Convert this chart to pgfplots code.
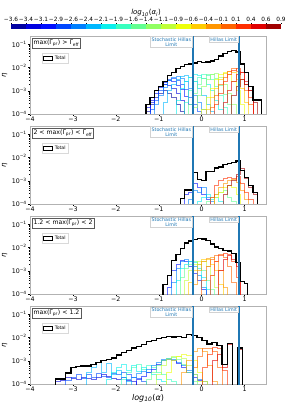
\documentclass[border=0pt]{standalone}
\usepackage{pgfplots}
\pgfplotsset{compat=1.18}
\usepackage{fontspec}
\setmainfont{DejaVu Sans}
\definecolor{j0}{rgb}{0,0,0.63}
\definecolor{j1}{rgb}{0,0,0.88}
\definecolor{j2}{rgb}{0,0.06,1}
\definecolor{j3}{rgb}{0,0.28,1}
\definecolor{j4}{rgb}{0,0.5,1}
\definecolor{j5}{rgb}{0,0.72,1}
\definecolor{j6}{rgb}{0.04,0.94,0.93}
\definecolor{j7}{rgb}{0.22,1,0.75}
\definecolor{j8}{rgb}{0.39,1,0.57}
\definecolor{j9}{rgb}{0.57,1,0.39}
\definecolor{j10}{rgb}{0.75,1,0.22}
\definecolor{j11}{rgb}{0.93,1,0.04}
\definecolor{j12}{rgb}{1,0.8,0}
\definecolor{j13}{rgb}{1,0.59,0}
\definecolor{j14}{rgb}{1,0.39,0}
\definecolor{j15}{rgb}{1,0.18,0}
\definecolor{j16}{rgb}{0.88,0,0}
\definecolor{j17}{rgb}{0.63,0,0}
\definecolor{tabblue}{rgb}{0.122,0.467,0.706}
\pgfplotsset{
  mypanel/.style={
    scale only axis, width=236pt, height=77.5pt, anchor=south west,
    xmin=-4, xmax=1.5, ymin=1e-4, ymax=0.22,
    xtick={-4,-3,-2,-1,0,1}, xticklabels={−4,−3,−2,−1,0,1},
    ytick={1e-4,1e-3,1e-2,1e-1},
    yticklabels={10\textsuperscript{−4},10\textsuperscript{−3},10\textsuperscript{−2},10\textsuperscript{−1}},
    axis line style={gray!60, line width=0.6pt},
    tick align=outside, major tick length=2pt, minor tick length=1.2pt,
    every tick/.style={black, line width=0.4pt},
    xtick pos=left, ytick pos=left,
    tick label style={font=\fontsize{6.3}{7}\selectfont, inner sep=1pt},
    ylabel={\itshape η}, ylabel style={font=\fontsize{7}{8}\selectfont},
    legend cell align=left,
    legend style={at={(0.05,0.79)}, anchor=north west, draw=gray!30,
      font=\fontsize{4.6}{5}\selectfont, inner sep=0.8pt},
  },
  hist/.style={const plot, line width=0.7pt, draw opacity=0.6, forget plot},
  tot/.style={const plot, black, line width=1.3pt,
    legend image code/.code={\draw[black, line width=1pt] (0pt,-2pt) rectangle (9pt,2pt);}},
  lim/.style={color=tabblue, line width=1.5pt, forget plot},
}
\tikzset{
  lbl/.style={fill=white, draw=gray!35, text=tabblue, font=\fontsize{4.8}{5.3}\selectfont,
    align=center, inner sep=1pt, anchor=north east, xshift=-0.8pt},
  ttl/.style={anchor=north west, draw=gray!70!black, fill=white,
    font=\fontsize{6.2}{7}\selectfont, inner sep=1.4pt, line width=0.5pt},
}
\begin{document}
\begin{tikzpicture}
\path[use as bounding box] (0,0) rectangle (287pt,407pt);

% ---------- colorbar ----------
\begin{axis}[at={(11pt,378pt)}, anchor=south west, scale only axis, width=270pt, height=4.5pt,
  xmin=-3.625, xmax=0.875, ymin=0, ymax=1, ytick=\empty, clip=false,
  axis line style={draw=none},
  xtick={-3.625,-3.375,-3.125,-2.875,-2.625,-2.375,-2.125,-1.875,-1.625,-1.375,-1.125,-0.875,-0.625,-0.375,-0.125,0.125,0.375,0.625,0.875},
  xticklabels={−3.6,−3.4,−3.1,−2.9,−2.6,−2.4,−2.1,−1.9,−1.6,−1.4,−1.1,−0.9,−0.6,−0.4,−0.1,0.1,0.4,0.6,0.9},
  xticklabel pos=upper, xtick pos=upper, tick align=outside, major tick length=1.5pt,
  every tick/.style={black, line width=0.3pt},
  tick label style={font=\fontsize{5.8}{6.5}\selectfont, inner sep=0.8pt}]
\addplot[fill=j0, draw=none] coordinates {(-3.625,1) (-3.375,1)} \closedcycle;
\addplot[fill=j1, draw=none] coordinates {(-3.375,1) (-3.125,1)} \closedcycle;
\addplot[fill=j2, draw=none] coordinates {(-3.125,1) (-2.875,1)} \closedcycle;
\addplot[fill=j3, draw=none] coordinates {(-2.875,1) (-2.625,1)} \closedcycle;
\addplot[fill=j4, draw=none] coordinates {(-2.625,1) (-2.375,1)} \closedcycle;
\addplot[fill=j5, draw=none] coordinates {(-2.375,1) (-2.125,1)} \closedcycle;
\addplot[fill=j6, draw=none] coordinates {(-2.125,1) (-1.875,1)} \closedcycle;
\addplot[fill=j7, draw=none] coordinates {(-1.875,1) (-1.625,1)} \closedcycle;
\addplot[fill=j8, draw=none] coordinates {(-1.625,1) (-1.375,1)} \closedcycle;
\addplot[fill=j9, draw=none] coordinates {(-1.375,1) (-1.125,1)} \closedcycle;
\addplot[fill=j10, draw=none] coordinates {(-1.125,1) (-0.875,1)} \closedcycle;
\addplot[fill=j11, draw=none] coordinates {(-0.875,1) (-0.625,1)} \closedcycle;
\addplot[fill=j12, draw=none] coordinates {(-0.625,1) (-0.375,1)} \closedcycle;
\addplot[fill=j13, draw=none] coordinates {(-0.375,1) (-0.125,1)} \closedcycle;
\addplot[fill=j14, draw=none] coordinates {(-0.125,1) (0.125,1)} \closedcycle;
\addplot[fill=j15, draw=none] coordinates {(0.125,1) (0.375,1)} \closedcycle;
\addplot[fill=j16, draw=none] coordinates {(0.375,1) (0.625,1)} \closedcycle;
\addplot[fill=j17, draw=none] coordinates {(0.625,1) (0.875,1)} \closedcycle;
\node[anchor=south, yshift=8pt, inner sep=0pt, font=\fontsize{7}{8}\selectfont] at (rel axis cs:0.5,1)
  {\textit{log}\textsubscript{\textit{10}}(\textit{α}\textsubscript{\textit{i}})};
\end{axis}

% ---------- panel 1 ----------
\begin{axis}[mypanel, ymode=log, at={(30pt,293pt)}]
\addplot[hist, j0] table[row sep=\\, y expr=10^(\thisrowno{1})] {x y\\ -1.3 -6\\ -1.3 -3.9\\ -1.2 -3.6\\ -1.1 -3.3\\ -1.0 -3.1\\ -0.9 -3.0\\ -0.8 -3.1\\ -0.7 -3.3\\ -0.6 -3.6\\ -0.5 -3.9\\ -0.4 -6\\};
\addplot[hist, j1] table[row sep=\\, y expr=10^(\thisrowno{1})] {x y\\ -1.3 -6\\ -1.3 -3.7\\ -1.2 -3.4\\ -1.1 -3.0\\ -1.0 -2.8\\ -0.9 -2.7\\ -0.8 -2.75\\ -0.7 -2.9\\ -0.6 -3.1\\ -0.5 -3.4\\ -0.4 -6\\};
\addplot[hist, j2] table[row sep=\\, y expr=10^(\thisrowno{1})] {x y\\ -1.2 -6\\ -1.2 -3.5\\ -1.1 -3.1\\ -1.0 -2.85\\ -0.9 -2.65\\ -0.8 -2.55\\ -0.7 -2.6\\ -0.6 -2.75\\ -0.5 -2.95\\ -0.4 -3.25\\ -0.3 -3.6\\ -0.2 -6\\};
\addplot[hist, j3] table[row sep=\\, y expr=10^(\thisrowno{1})] {x y\\ -1.2 -6\\ -1.2 -3.8\\ -1.1 -3.4\\ -1.0 -3.0\\ -0.9 -2.7\\ -0.8 -2.5\\ -0.7 -2.45\\ -0.6 -2.55\\ -0.5 -2.7\\ -0.4 -2.95\\ -0.3 -3.3\\ -0.2 -3.6\\ -0.1 -3.9\\ 0.0 -6\\};
\addplot[hist, j4] table[row sep=\\, y expr=10^(\thisrowno{1})] {x y\\ -1.1 -6\\ -1.1 -3.6\\ -1.0 -3.2\\ -0.9 -2.85\\ -0.8 -2.55\\ -0.7 -2.42\\ -0.6 -2.38\\ -0.5 -2.45\\ -0.4 -2.6\\ -0.3 -2.9\\ -0.2 -3.2\\ -0.1 -3.5\\ 0.0 -3.8\\ 0.1 -6\\};
\addplot[hist, j5] table[row sep=\\, y expr=10^(\thisrowno{1})] {x y\\ -0.9 -6\\ -0.9 -3.5\\ -0.8 -3.0\\ -0.7 -2.7\\ -0.6 -2.5\\ -0.5 -2.38\\ -0.4 -2.32\\ -0.3 -2.4\\ -0.2 -2.6\\ -0.1 -2.9\\ 0.0 -3.2\\ 0.1 -3.6\\ 0.2 -3.9\\ 0.3 -6\\};
\addplot[hist, j6] table[row sep=\\, y expr=10^(\thisrowno{1})] {x y\\ -0.6 -6\\ -0.6 -3.4\\ -0.5 -2.9\\ -0.4 -2.6\\ -0.3 -2.4\\ -0.2 -2.3\\ -0.1 -2.32\\ 0.0 -2.45\\ 0.1 -2.7\\ 0.2 -3.0\\ 0.3 -3.4\\ 0.4 -3.8\\ 0.5 -6\\};
\addplot[hist, j7] table[row sep=\\, y expr=10^(\thisrowno{1})] {x y\\ -0.4 -6\\ -0.4 -3.5\\ -0.3 -3.0\\ -0.2 -2.6\\ -0.1 -2.4\\ 0.0 -2.3\\ 0.1 -2.35\\ 0.2 -2.5\\ 0.3 -2.8\\ 0.4 -3.2\\ 0.5 -3.7\\ 0.6 -6\\};
\addplot[hist, j8] table[row sep=\\, y expr=10^(\thisrowno{1})] {x y\\ -0.3 -6\\ -0.3 -3.6\\ -0.2 -3.1\\ -0.1 -2.7\\ 0.0 -2.45\\ 0.1 -2.3\\ 0.2 -2.3\\ 0.3 -2.45\\ 0.4 -2.75\\ 0.5 -3.15\\ 0.6 -3.6\\ 0.7 -6\\};
\addplot[hist, j9] table[row sep=\\, y expr=10^(\thisrowno{1})] {x y\\ -0.2 -6\\ -0.2 -3.7\\ -0.1 -3.2\\ 0.0 -2.8\\ 0.1 -2.5\\ 0.2 -2.3\\ 0.3 -2.25\\ 0.4 -2.4\\ 0.5 -2.7\\ 0.6 -3.1\\ 0.7 -3.6\\ 0.8 -6\\};
\addplot[hist, j11] table[row sep=\\, y expr=10^(\thisrowno{1})] {x y\\ 0.0 -6\\ 0.0 -3.8\\ 0.1 -3.3\\ 0.2 -2.9\\ 0.3 -2.5\\ 0.4 -2.3\\ 0.5 -2.2\\ 0.6 -2.3\\ 0.7 -2.6\\ 0.8 -3.0\\ 0.9 -3.6\\ 1.0 -6\\};
\addplot[hist, j12] table[row sep=\\, y expr=10^(\thisrowno{1})] {x y\\ 0.1 -6\\ 0.1 -3.8\\ 0.2 -3.3\\ 0.3 -2.9\\ 0.4 -2.5\\ 0.5 -2.25\\ 0.6 -2.15\\ 0.7 -2.2\\ 0.8 -2.5\\ 0.9 -2.9\\ 1.0 -3.5\\ 1.1 -6\\};
\addplot[hist, j14] table[row sep=\\, y expr=10^(\thisrowno{1})] {x y\\ 0.2 -6\\ 0.2 -3.7\\ 0.3 -3.2\\ 0.4 -2.7\\ 0.5 -2.4\\ 0.6 -2.15\\ 0.7 -2.05\\ 0.8 -2.15\\ 0.9 -2.5\\ 1.0 -3.0\\ 1.1 -3.6\\ 1.2 -6\\};
\addplot[hist, j15] table[row sep=\\, y expr=10^(\thisrowno{1})] {x y\\ 0.3 -6\\ 0.3 -3.6\\ 0.4 -3.1\\ 0.5 -2.6\\ 0.6 -2.3\\ 0.7 -2.1\\ 0.8 -2.05\\ 0.9 -2.2\\ 1.0 -2.7\\ 1.1 -3.3\\ 1.2 -6\\};
\addplot[hist, j16] table[row sep=\\, y expr=10^(\thisrowno{1})] {x y\\ 0.5 -6\\ 0.5 -3.5\\ 0.6 -3.0\\ 0.7 -2.6\\ 0.8 -2.3\\ 0.9 -2.2\\ 1.0 -2.6\\ 1.1 -3.0\\ 1.2 -6\\};
\addplot[hist, j17] table[row sep=\\, y expr=10^(\thisrowno{1})] {x y\\ 0.7 -6\\ 0.7 -3.2\\ 0.8 -2.8\\ 0.9 -2.5\\ 1.0 -2.7\\ 1.1 -3.0\\ 1.2 -3.5\\ 1.3 -6\\};
\addplot[tot] table[row sep=\\, y expr=10^(\thisrowno{1})] {x y\\ -1.3 -6\\ -1.3 -3.6\\ -1.2 -3.3\\ -1.1 -3.0\\ -1.0 -2.8\\ -0.9 -2.6\\ -0.8 -2.35\\ -0.7 -2.2\\ -0.6 -2.05\\ -0.5 -1.95\\ -0.4 -1.88\\ -0.3 -1.85\\ -0.2 -1.8\\ -0.1 -1.75\\ 0.0 -1.78\\ 0.1 -1.76\\ 0.2 -1.72\\ 0.3 -1.65\\ 0.4 -1.5\\ 0.5 -1.4\\ 0.6 -1.3\\ 0.7 -1.27\\ 0.8 -1.32\\ 0.9 -1.85\\ 1.0 -2.2\\ 1.1 -2.8\\ 1.2 -3.4\\ 1.3 -3.4\\ 1.4 -6\\};
\addlegendentry{Total}
\addplot[lim] coordinates {(-0.2,1e-5) (-0.2,1)};
\addplot[lim] coordinates {(0.87,1e-5) (0.87,1)};
\node[lbl] at (axis cs:-0.2,0.22) {Stochastic Hillas\\Limit};
\node[lbl] at (axis cs:0.87,0.22) {Hillas Limit};
\node[ttl] at (rel axis cs:0.008,0.975) {max(Γ\textsubscript{pr}) > Γ\textsubscript{eff}};
\end{axis}

% ---------- panel 2 ----------
\begin{axis}[mypanel, ymode=log, at={(30pt,203pt)}]
\addplot[hist, j2] table[row sep=\\, y expr=10^(\thisrowno{1})] {x y\\ -0.4 -6\\ -0.4 -3.6\\ -0.3 -3.5\\ -0.2 -3.1\\ -0.1 -3.3\\ 0.0 -3.6\\ 0.1 -3.8\\ 0.2 -6\\};
\addplot[hist, j4] table[row sep=\\, y expr=10^(\thisrowno{1})] {x y\\ -0.3 -6\\ -0.3 -3.8\\ -0.2 -3.4\\ -0.1 -3.5\\ 0.0 -3.3\\ 0.1 -3.7\\ 0.2 -3.9\\ 0.3 -6\\};
\addplot[hist, j6] table[row sep=\\, y expr=10^(\thisrowno{1})] {x y\\ -0.1 -6\\ -0.1 -3.9\\ 0.0 -3.7\\ 0.1 -3.6\\ 0.2 -3.8\\ 0.3 -3.7\\ 0.4 -3.9\\ 0.5 -6\\};
\addplot[hist, j8] table[row sep=\\, y expr=10^(\thisrowno{1})] {x y\\ 0.1 -6\\ 0.1 -3.9\\ 0.2 -3.7\\ 0.3 -3.6\\ 0.4 -3.5\\ 0.5 -3.4\\ 0.6 -3.7\\ 0.7 -3.9\\ 0.8 -6\\};
\addplot[hist, j11] table[row sep=\\, y expr=10^(\thisrowno{1})] {x y\\ 0.3 -6\\ 0.3 -3.7\\ 0.4 -3.5\\ 0.5 -3.3\\ 0.6 -3.2\\ 0.7 -3.3\\ 0.8 -3.6\\ 0.9 -6\\};
\addplot[hist, j13] table[row sep=\\, y expr=10^(\thisrowno{1})] {x y\\ 0.3 -6\\ 0.3 -3.6\\ 0.4 -3.3\\ 0.5 -3.1\\ 0.6 -3.0\\ 0.7 -2.95\\ 0.8 -3.05\\ 0.9 -3.4\\ 1.0 -3.8\\ 1.1 -6\\};
\addplot[hist, j15] table[row sep=\\, y expr=10^(\thisrowno{1})] {x y\\ 0.2 -6\\ 0.2 -3.7\\ 0.3 -3.2\\ 0.4 -3.0\\ 0.5 -2.9\\ 0.6 -2.85\\ 0.7 -2.9\\ 0.8 -2.8\\ 0.9 -3.1\\ 1.0 -3.5\\ 1.1 -3.8\\ 1.2 -6\\};
\addplot[hist, j17] table[row sep=\\, y expr=10^(\thisrowno{1})] {x y\\ 0.5 -6\\ 0.5 -3.6\\ 0.6 -3.2\\ 0.7 -3.0\\ 0.8 -2.7\\ 0.9 -2.45\\ 1.0 -2.9\\ 1.1 -3.3\\ 1.2 -3.6\\ 1.3 -6\\};
\addplot[tot] table[row sep=\\, y expr=10^(\thisrowno{1})] {x y\\ -0.5 -6\\ -0.5 -3.75\\ -0.4 -3.4\\ -0.3 -3.4\\ -0.2 -2.65\\ -0.1 -2.95\\ 0.0 -3.0\\ 0.1 -2.6\\ 0.2 -2.6\\ 0.3 -2.45\\ 0.4 -2.4\\ 0.5 -2.3\\ 0.6 -2.25\\ 0.7 -2.2\\ 0.8 -2.15\\ 0.9 -2.55\\ 1.0 -2.85\\ 1.1 -3.2\\ 1.2 -3.5\\ 1.3 -6\\};
\addlegendentry{Total}
\addplot[lim] coordinates {(-0.2,1e-5) (-0.2,1)};
\addplot[lim] coordinates {(0.87,1e-5) (0.87,1)};
\node[lbl] at (axis cs:-0.2,0.22) {Stochastic Hillas\\Limit};
\node[lbl] at (axis cs:0.87,0.22) {Hillas Limit};
\node[ttl] at (rel axis cs:0.008,0.975) {2 < max(Γ\textsubscript{pr}) < Γ\textsubscript{eff}};
\end{axis}

% ---------- panel 3 ----------
\begin{axis}[mypanel, ymode=log, at={(30pt,113pt)}]
\addplot[hist, j2] table[row sep=\\, y expr=10^(\thisrowno{1})] {x y\\ -0.8 -6\\ -0.8 -3.7\\ -0.7 -3.0\\ -0.6 -2.7\\ -0.5 -2.55\\ -0.4 -2.6\\ -0.3 -2.8\\ -0.2 -3.1\\ -0.1 -3.4\\ 0.0 -3.8\\ 0.1 -6\\};
\addplot[hist, j4] table[row sep=\\, y expr=10^(\thisrowno{1})] {x y\\ -0.7 -6\\ -0.7 -3.5\\ -0.6 -2.9\\ -0.5 -2.6\\ -0.4 -2.5\\ -0.3 -2.6\\ -0.2 -2.8\\ -0.1 -3.2\\ 0.0 -3.7\\ 0.1 -6\\};
\addplot[hist, j6] table[row sep=\\, y expr=10^(\thisrowno{1})] {x y\\ -0.6 -6\\ -0.6 -3.4\\ -0.5 -2.9\\ -0.4 -2.7\\ -0.3 -2.6\\ -0.2 -2.65\\ -0.1 -2.9\\ 0.0 -3.3\\ 0.1 -3.8\\ 0.2 -6\\};
\addplot[hist, j8] table[row sep=\\, y expr=10^(\thisrowno{1})] {x y\\ -0.5 -6\\ -0.5 -3.3\\ -0.4 -2.9\\ -0.3 -2.7\\ -0.2 -2.6\\ -0.1 -2.7\\ 0.0 -3.0\\ 0.1 -3.4\\ 0.2 -3.8\\ 0.3 -6\\};
\addplot[hist, j10] table[row sep=\\, y expr=10^(\thisrowno{1})] {x y\\ -0.4 -6\\ -0.4 -3.4\\ -0.3 -3.0\\ -0.2 -2.7\\ -0.1 -2.6\\ 0.0 -2.6\\ 0.1 -2.8\\ 0.2 -3.2\\ 0.3 -3.7\\ 0.4 -6\\};
\addplot[hist, j12] table[row sep=\\, y expr=10^(\thisrowno{1})] {x y\\ -0.3 -6\\ -0.3 -3.5\\ -0.2 -3.0\\ -0.1 -2.7\\ 0.0 -2.5\\ 0.1 -2.5\\ 0.2 -2.7\\ 0.3 -3.0\\ 0.4 -3.6\\ 0.5 -6\\};
\addplot[hist, j13] table[row sep=\\, y expr=10^(\thisrowno{1})] {x y\\ -0.2 -6\\ -0.2 -3.6\\ -0.1 -3.0\\ 0.0 -2.6\\ 0.1 -2.45\\ 0.2 -2.4\\ 0.3 -2.6\\ 0.4 -3.0\\ 0.5 -3.7\\ 0.6 -6\\};
\addplot[hist, j14] table[row sep=\\, y expr=10^(\thisrowno{1})] {x y\\ 0.0 -6\\ 0.0 -3.4\\ 0.1 -2.8\\ 0.2 -2.5\\ 0.3 -2.35\\ 0.4 -2.3\\ 0.5 -2.4\\ 0.6 -2.8\\ 0.7 -3.5\\ 0.8 -6\\};
\addplot[hist, j15] table[row sep=\\, y expr=10^(\thisrowno{1})] {x y\\ 0.2 -6\\ 0.2 -3.2\\ 0.3 -2.6\\ 0.4 -2.35\\ 0.5 -2.25\\ 0.6 -2.3\\ 0.7 -2.6\\ 0.8 -3.3\\ 0.9 -6\\};
\addplot[hist, j16] table[row sep=\\, y expr=10^(\thisrowno{1})] {x y\\ 0.4 -6\\ 0.4 -3.0\\ 0.5 -2.5\\ 0.6 -2.35\\ 0.7 -2.5\\ 0.8 -2.8\\ 0.9 -6\\};
\addplot[tot] table[row sep=\\, y expr=10^(\thisrowno{1})] {x y\\ -0.9 -6\\ -0.9 -3.6\\ -0.8 -3.2\\ -0.7 -2.55\\ -0.6 -2.3\\ -0.5 -2.05\\ -0.4 -1.8\\ -0.3 -1.72\\ -0.2 -1.65\\ -0.1 -1.6\\ 0.0 -1.63\\ 0.1 -1.7\\ 0.2 -1.85\\ 0.3 -1.97\\ 0.4 -2.05\\ 0.5 -2.12\\ 0.6 -2.15\\ 0.7 -2.25\\ 0.8 -2.65\\ 0.9 -3.45\\ 1.0 -3.55\\ 1.07 -6\\};
\addlegendentry{Total}
\addplot[lim] coordinates {(-0.2,1e-5) (-0.2,1)};
\addplot[lim] coordinates {(0.87,1e-5) (0.87,1)};
\node[lbl] at (axis cs:-0.2,0.22) {Stochastic Hillas\\Limit};
\node[lbl] at (axis cs:0.87,0.22) {Hillas Limit};
\node[ttl] at (rel axis cs:0.008,0.975) {1.2 < max(Γ\textsubscript{pr}) < 2};
\end{axis}

% ---------- panel 4 ----------
\begin{axis}[mypanel, ymode=log, at={(30pt,23pt)},
  xlabel={\textit{log}\textsubscript{\textit{10}}(\textit{α})},
  xlabel style={font=\fontsize{8}{9}\selectfont, inner sep=1pt}]
\addplot[hist, j1] table[row sep=\\, y expr=10^(\thisrowno{1})] {x y\\ -3.4 -6\\ -3.4 -3.9\\ -3.2825 -3.85\\ -3.165 -3.7\\ -3.0475 -3.75\\ -2.93 -3.8\\ -2.8125 -3.7\\ -2.695 -3.75\\ -2.5775 -3.8\\ -2.46 -3.7\\ -2.3425 -3.6\\ -2.225 -3.65\\ -2.1075 -3.75\\ -1.99 -3.8\\ -1.8725 -3.7\\ -1.755 -3.85\\ -1.6375 -3.9\\ -1.52 -6\\};
\addplot[hist, j3] table[row sep=\\, y expr=10^(\thisrowno{1})] {x y\\ -3.165 -6\\ -3.165 -3.85\\ -3.0475 -3.7\\ -2.93 -3.6\\ -2.8125 -3.75\\ -2.695 -3.6\\ -2.5775 -3.7\\ -2.46 -3.55\\ -2.3425 -3.65\\ -2.225 -3.7\\ -2.1075 -3.55\\ -1.99 -3.6\\ -1.8725 -3.5\\ -1.755 -3.6\\ -1.6375 -3.7\\ -1.52 -3.75\\ -1.4025 -3.9\\ -1.285 -6\\};
\addplot[hist, j5] table[row sep=\\, y expr=10^(\thisrowno{1})] {x y\\ -2.695 -6\\ -2.695 -3.5\\ -2.5775 -3.3\\ -2.46 -3.05\\ -2.3425 -3.5\\ -2.225 -3.1\\ -2.1075 -3.6\\ -1.99 -3.4\\ -1.8725 -3.7\\ -1.755 -3.9\\ -1.6375 -6\\};
\addplot[hist, j6] table[row sep=\\, y expr=10^(\thisrowno{1})] {x y\\ -2.225 -6\\ -2.225 -3.8\\ -2.1075 -3.5\\ -1.99 -3.3\\ -1.8725 -3.15\\ -1.755 -3.4\\ -1.6375 -3.2\\ -1.52 -3.45\\ -1.4025 -3.3\\ -1.285 -3.5\\ -1.1675 -3.6\\ -1.05 -3.8\\ -0.9325 -3.9\\ -0.815 -6\\};
\addplot[hist, j7] table[row sep=\\, y expr=10^(\thisrowno{1})] {x y\\ -1.8725 -6\\ -1.8725 -3.8\\ -1.755 -3.5\\ -1.6375 -3.3\\ -1.52 -3.15\\ -1.4025 -3.35\\ -1.285 -3.2\\ -1.1675 -3.3\\ -1.05 -3.5\\ -0.9325 -3.6\\ -0.815 -3.8\\ -0.6975 -3.9\\ -0.58 -6\\};
\addplot[hist, j4] table[row sep=\\, y expr=10^(\thisrowno{1})] {x y\\ -1.755 -6\\ -1.755 -3.8\\ -1.6375 -3.7\\ -1.52 -3.55\\ -1.4025 -3.45\\ -1.285 -3.35\\ -1.1675 -3.2\\ -1.05 -3.05\\ -0.9325 -2.95\\ -0.815 -2.9\\ -0.6975 -2.95\\ -0.58 -3.05\\ -0.4625 -3.2\\ -0.345 -3.4\\ -0.2275 -3.6\\ -0.11 -3.8\\ 0.0075 -3.9\\ 0.125 -6\\};
\addplot[hist, j2] table[row sep=\\, y expr=10^(\thisrowno{1})] {x y\\ -1.52 -6\\ -1.52 -3.8\\ -1.4025 -3.65\\ -1.285 -3.5\\ -1.1675 -3.35\\ -1.05 -3.15\\ -0.9325 -3.0\\ -0.815 -2.92\\ -0.6975 -3.0\\ -0.58 -3.1\\ -0.4625 -3.3\\ -0.345 -3.5\\ -0.2275 -3.7\\ -0.11 -3.85\\ 0.0075 -6\\};
\addplot[hist, j8] table[row sep=\\, y expr=10^(\thisrowno{1})] {x y\\ -1.285 -6\\ -1.285 -3.8\\ -1.1675 -3.5\\ -1.05 -3.2\\ -0.9325 -3.0\\ -0.815 -2.9\\ -0.6975 -2.85\\ -0.58 -2.95\\ -0.4625 -3.15\\ -0.345 -3.5\\ -0.2275 -3.9\\ -0.11 -6\\};
\addplot[hist, j10] table[row sep=\\, y expr=10^(\thisrowno{1})] {x y\\ -1.05 -6\\ -1.05 -3.6\\ -0.9325 -3.2\\ -0.815 -2.95\\ -0.6975 -2.8\\ -0.58 -2.8\\ -0.4625 -2.9\\ -0.345 -3.2\\ -0.2275 -3.6\\ -0.11 -3.9\\ 0.0075 -6\\};
\addplot[hist, j11] table[row sep=\\, y expr=10^(\thisrowno{1})] {x y\\ -0.815 -6\\ -0.815 -3.5\\ -0.6975 -3.0\\ -0.58 -2.8\\ -0.4625 -2.7\\ -0.345 -2.75\\ -0.2275 -3.0\\ -0.11 -3.5\\ 0.0075 -3.9\\ 0.125 -6\\};
\addplot[hist, j13] table[row sep=\\, y expr=10^(\thisrowno{1})] {x y\\ -0.4625 -6\\ -0.4625 -3.5\\ -0.345 -3.0\\ -0.2275 -2.6\\ -0.11 -2.45\\ 0.0075 -2.6\\ 0.125 -3.2\\ 0.2425 -3.9\\ 0.36 -6\\};
\addplot[hist, j14] table[row sep=\\, y expr=10^(\thisrowno{1})] {x y\\ -0.2275 -6\\ -0.2275 -3.3\\ -0.11 -2.8\\ 0.0075 -2.45\\ 0.125 -2.45\\ 0.2425 -2.6\\ 0.36 -3.3\\ 0.4775 -6\\};
\addplot[hist, j15] table[row sep=\\, y expr=10^(\thisrowno{1})] {x y\\ 0.0075 -6\\ 0.0075 -3.3\\ 0.125 -2.7\\ 0.2425 -2.4\\ 0.36 -2.45\\ 0.4775 -3.4\\ 0.595 -6\\};
\addplot[hist, j16] table[row sep=\\, y expr=10^(\thisrowno{1})] {x y\\ 0.2425 -6\\ 0.2425 -3.0\\ 0.36 -2.7\\ 0.4775 -3.3\\ 0.595 -2.3\\ 0.7125 -6\\};
\addplot[hist, j17] table[row sep=\\, y expr=10^(\thisrowno{1})] {x y\\ 0.83 -6\\ 0.83 -2.5\\ 0.9475 -6\\};
\addplot[tot] table[row sep=\\, y expr=10^(\thisrowno{1})] {x y\\ -3.4 -6\\ -3.4 -3.78\\ -3.2825 -3.78\\ -3.165 -3.53\\ -3.0475 -3.3\\ -2.93 -3.25\\ -2.8125 -3.22\\ -2.695 -3.22\\ -2.5775 -3.15\\ -2.46 -3.08\\ -2.3425 -3.0\\ -2.225 -2.95\\ -2.1075 -2.88\\ -1.99 -2.75\\ -1.8725 -2.65\\ -1.755 -2.56\\ -1.6375 -2.45\\ -1.52 -2.38\\ -1.4025 -2.3\\ -1.285 -2.18\\ -1.1675 -2.12\\ -1.05 -2.05\\ -0.9325 -1.98\\ -0.815 -1.95\\ -0.6975 -1.97\\ -0.58 -1.96\\ -0.4625 -1.98\\ -0.345 -1.88\\ -0.2275 -1.9\\ -0.11 -2.0\\ 0.0075 -2.12\\ 0.125 -2.27\\ 0.2425 -2.22\\ 0.36 -2.35\\ 0.4775 -3.15\\ 0.595 -2.25\\ 0.7125 -6\\ 0.83 -2.45\\ 0.9475 -6\\};
\addlegendentry{Total}
\addplot[lim] coordinates {(-0.2,1e-5) (-0.2,1)};
\addplot[lim] coordinates {(0.87,1e-5) (0.87,1)};
\node[lbl] at (axis cs:-0.2,0.22) {Stochastic Hillas\\Limit};
\node[lbl] at (axis cs:0.87,0.22) {Hillas Limit};
\node[ttl] at (rel axis cs:0.008,0.975) {max(Γ\textsubscript{pr}) < 1.2};
\end{axis}
\end{tikzpicture}
\end{document}
